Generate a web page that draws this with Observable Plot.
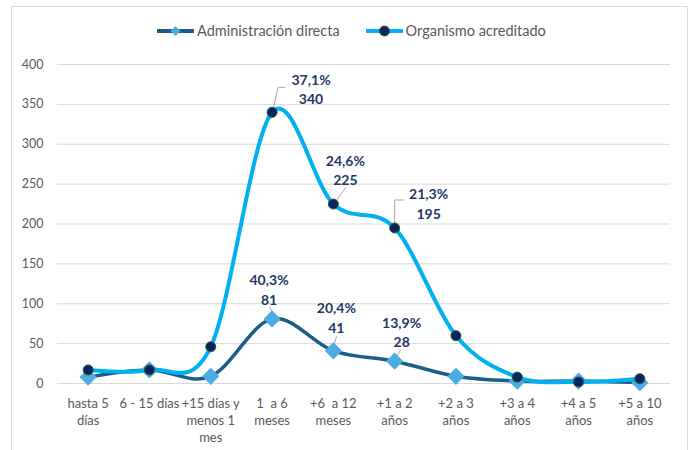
<!DOCTYPE html>
<html>
<head>
<meta charset="utf-8">
<script src="https://cdn.jsdelivr.net/npm/d3@7"></script>
<script src="https://cdn.jsdelivr.net/npm/@observablehq/plot@0.6"></script>
<style>
  html, body { margin: 0; padding: 0; background: #fff; }
  body { width: 694px; height: 450px; overflow: hidden; position: relative; font-family: Lato, "Open Sans", sans-serif; }
  #frame { position: absolute; left: 11px; top: 6px; width: 677px; height: 470px; border: 1px solid #d9d9d9; box-sizing: border-box; }
  #chart { position: absolute; left: 0; top: 0; }
  #legend { position: absolute; top: 22px; left: 157px; display: flex; align-items: center; font-size: 14.5px; color: #595959; }
  .item { display: flex; align-items: center; }
  .item svg { margin-right: 3px; }
</style>
</head>
<body>
<div id="frame"></div>
<div id="chart"></div>
<div id="legend"></div>
<script>
// ---- data ----
const categories = ["hasta 5\ndías", "6 - 15 días", "+15 días y\nmenos 1\nmes", "1  a 6\nmeses", "+6  a 12\nmeses", "+1 a 2\naños", "+2 a 3\naños", "+3 a 4\naños", "+4 a 5\naños", "+5 a 10\naños"];
const adminValues = [8, 17, 9, 81, 41, 28, 9, 3, 3, 1];
const orgValues = [17, 17, 46, 340, 225, 195, 60, 8, 2, 6];
const seriesNames = ["Administración directa", "Organismo acreditado"];
const yTicks = [0, 50, 100, 150, 200, 250, 300, 350, 400];
const adminLabelIdx = [3, 4, 5];
const adminPct = ["40,3%", "20,4%", "13,9%"];
const orgLabelIdx = [3, 4, 5];
const orgPct = ["37,1%", "24,6%", "21,3%"];

// ---- styling ----
const W = 694, H = 450, mT = 64, mB = 67, mL = 57, mR = 24;
const xStep = (W - mL - mR) / categories.length;
const yPx = (H - mT - mB) / 400;
const adminLine = "#1B5E86", adminMark = "#4DADE2";
const orgLine = "#00B0F0", orgMark = "#0A2463", orgMarkStroke = "#2E5B2A";
const labelColor = "#1F3864", axisColor = "#595959", leaderColor = "#A6A6A6";
// label offsets (px) and leader paths (px) relative to the data point
const adminLabelOff = [[-3, -30], [3, -34], [7, -30]];
const orgLabelOff = [[39, -24], [12, -35], [34, -25]];
const adminLeader = [[[0, -7], [-2, -12]], [[0, -3], [3, -14]], [[1, -3], [6, -11]]];
const orgLeader = [[[1, -3], [6, -25], [13, -25]], [[2, -2], [12, -16]], [[0, -2], [0, -28], [9, -28]]];

const adminData = adminValues.map((v, i) => ({i, v}));
const orgData = orgValues.map((v, i) => ({i, v}));

function labelRows(idx, pct, values, offs) {
  return idx.map((i, k) => ({i, v: values[i], text: pct[k] + "\n" + values[i], dx: offs[k][0], dy: offs[k][1]}));
}
function leaderRows(idx, values, paths, tag) {
  const rows = [];
  idx.forEach((i, k) => paths[k].forEach(([px, py]) => rows.push({id: tag + k, x: i + px / xStep, y: values[i] - py / yPx})));
  return rows;
}
const labels = [...labelRows(adminLabelIdx, adminPct, adminValues, adminLabelOff), ...labelRows(orgLabelIdx, orgPct, orgValues, orgLabelOff)];
const leaders = [...leaderRows(adminLabelIdx, adminValues, adminLeader, "a"), ...leaderRows(orgLabelIdx, orgValues, orgLeader, "o")];

const chart = Plot.plot({
  width: W, height: H,
  marginTop: mT, marginBottom: mB, marginLeft: mL, marginRight: mR,
  x: {domain: [-0.5, categories.length - 0.5], axis: null},
  y: {domain: [0, 400], axis: null},
  style: {fontFamily: "Lato, 'Open Sans', sans-serif", fontSize: "12px", background: "transparent", overflow: "visible"},
  marks: [
    Plot.gridY(yTicks, {stroke: "#D9D9D9", strokeOpacity: 1, strokeWidth: 1}),
    Plot.axisY(yTicks, {tickSize: 0, tickPadding: 14, fill: axisColor, fontSize: 12.5, label: null}),
    Plot.text(categories, {x: (d, i) => i, text: d => d, frameAnchor: "bottom", dy: 12, lineAnchor: "top", lineHeight: 1.32, fill: axisColor, fontSize: 13}),
    Plot.line(adminData, {x: "i", y: "v", curve: "cardinal", tension: 0, stroke: adminLine, strokeWidth: 3.5}),
    Plot.line(leaders, {x: "x", y: "y", z: "id", stroke: leaderColor, strokeWidth: 1}),
    Plot.dot(adminData, {x: "i", y: "v", symbol: "diamond2", r: 6.8, fill: adminMark, stroke: adminMark}),
    Plot.line(orgData, {x: "i", y: "v", curve: "cardinal", tension: 0, stroke: orgLine, strokeWidth: 4}),
    Plot.dot(orgData, {x: "i", y: "v", r: 5, fill: orgMark, stroke: orgMarkStroke, strokeWidth: 1}),
    ...labels.map(l => Plot.text([l], {x: "i", y: "v", text: "text", dx: l.dx, dy: l.dy, lineHeight: 1.4, fill: labelColor, fontWeight: "bold", fontSize: 14}))
  ]
});
document.getElementById("chart").appendChild(chart);

// legend
const legend = document.getElementById("legend");
function legendItem(name, lineColor, marker, gap) {
  const item = document.createElement("div");
  item.className = "item";
  item.style.marginRight = gap + "px";
  item.innerHTML = `<svg width="37" height="14" viewBox="0 0 37 14"><line x1="1" y1="7" x2="36" y2="7" stroke="${lineColor}" stroke-width="4" stroke-linecap="round"/>${marker}</svg><span>${name}</span>`;
  legend.appendChild(item);
}
legendItem(seriesNames[0], adminLine, `<path d="M18.5 2 L23.5 7 L18.5 12 L13.5 7 Z" fill="${adminMark}"/>`, 26);
legendItem(seriesNames[1], orgLine, `<circle cx="18.5" cy="7" r="5" fill="${orgMark}" stroke="${orgMarkStroke}"/>`, 0);
</script>
</body>
</html>
